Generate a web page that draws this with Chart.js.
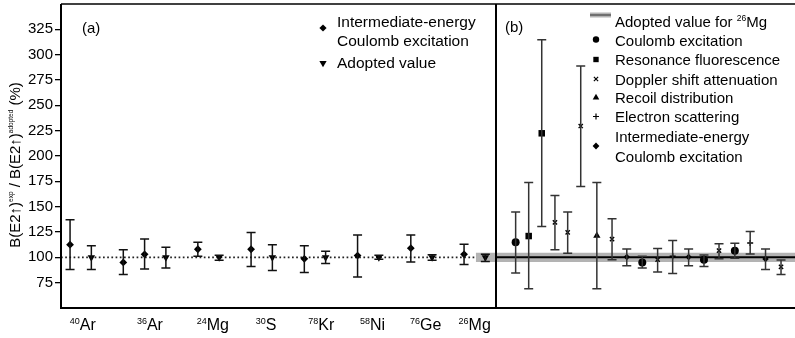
<!DOCTYPE html>
<html>
<head>
<meta charset="utf-8">
<script src="https://cdn.jsdelivr.net/npm/chart.js@4/dist/chart.umd.min.js"></script>
<style>
    html, body { margin: 0; padding: 0; background: #fff; }
    #wrap { position: relative; width: 795px; height: 338px; overflow: hidden; }
    #chartA { position: absolute; left: 0; top: 0; }
    #chartB { position: absolute; left: 496px; top: 0; }
</style>
</head>
<body>
<div id="wrap">
    <canvas id="chartA" width="498" height="338"></canvas>
    <canvas id="chartB" width="299" height="338"></canvas>
</div>
<script>
// ---- panel (a) ----
const massNumbers = ['40', '36', '24', '30', '78', '58', '76', '26'];
const elements = ['Ar', 'Ar', 'Mg', 'S', 'Kr', 'Ni', 'Ge', 'Mg'];
const labelX = [1.2, 7.5, 13.4, 18.4, 23.6, 28.4, 33.4, 38.0];

// intermediate-energy Coulomb excitation
const ieX = [0, 5, 7, 12, 17, 22, 27, 32, 37];
const ieY = [112.5, 95, 103, 108, 108, 98.5, 101.7, 109, 103];
const ieLo = [88, 83, 88.5, 101, 91, 85, 80.7, 95.5, 93];
const ieHi = [137, 107.5, 118, 115, 124.6, 111.5, 122, 122, 113];

// adopted values
const adX = [2, 9, 14, 19, 24, 29, 34, 39];
const adY = [100, 100, 100, 100, 100, 100, 100, 100];
const adLo = [88, 89.5, 97, 87, 94, 98, 97, 96];
const adHi = [111.5, 110, 102, 112.5, 106, 102, 102.5, 103];

// adopted value for 26Mg (band)
const mgAdopted = 100;
const mgAdoptedErr = 4.5;
const bandStartA = 38.1;

const yTicks = [75, 100, 125, 150, 175, 200, 225, 250, 275, 300, 325];

// ---- panel (b): 26Mg measurements ----
const bX = [1.28, 2.13, 2.98, 3.84, 4.67, 5.52, 6.57, 7.56, 8.52, 9.53, 10.53, 11.51, 12.55, 13.55, 14.53, 15.56, 16.56, 17.56, 18.57];
const bY = [114.8, 121, 222.4, 134.4, 124.6, 229.6, 121.4, 118, 100.4, 95, 97.7, 101, 100.4, 97.7, 106.6, 106.6, 114.2, 98.4, 90.5];
const bLo = [84.6, 68.9, 130.5, 107.6, 104, 169.9, 68.9, 97.7, 91.8, 89.5, 85.6, 84, 91.8, 91, 98.7, 99, 103.3, 88, 83];
const bHi = [144.7, 173.8, 314.8, 161, 144.7, 288.7, 173.8, 138, 108.3, 101, 108.6, 116.7, 108.3, 102.3, 113.5, 113.8, 125.6, 108.3, 97.4];
const bMethod = ['ce', 'rf', 'rf', 'dsa', 'dsa', 'dsa', 'rd', 'dsa', 'ie', 'ce', 'dsa', 'es', 'ie', 'ce', 'dsa', 'ce', 'es', 'ie', 'dsa'];

const methods = ['ce', 'rf', 'dsa', 'rd', 'es', 'ie'];
const methodNames = ['Coulomb excitation', 'Resonance fluorescence', 'Doppler shift attenuation',
    'Recoil distribution', 'Electron scattering', 'Intermediate-energy\nCoulomb excitation'];

// marker look for each method
const markerStyle = {
    ce: { pointStyle: 'circle', radius: 4, legendRadius: 3.2 },
    rf: { pointStyle: 'rect', radius: 4.6, legendRadius: 3.8 },
    dsa: { pointStyle: 'crossRot', radius: 3, legendRadius: 3 },
    rd: { pointStyle: 'triangle', radius: 4.2, legendRadius: 3.8 },
    es: { pointStyle: 'cross', radius: 3, legendRadius: 3 },
    ie: { pointStyle: 'rectRot', radius: 3.2, legendRadius: 3.4 },
};

const FONT = "'Liberation Sans', Arial, Helvetica, sans-serif";
Chart.defaults.font.family = FONT;
Chart.defaults.color = '#000';

const toPoints = (xs, ys) => xs.map((x, i) => ({ x: x, y: ys[i] }));

// draws text pieces one after another, some raised and smaller (superscripts)
function drawRich(ctx, parts, x, y, align) {
    let total = 0;
    parts.forEach(p => {
        ctx.font = p.size + 'px ' + FONT;
        p.w = ctx.measureText(p.t).width;
        total += p.w;
    });
    let cx = align === 'center' ? x - total / 2 : x;
    ctx.textAlign = 'left';
    ctx.textBaseline = 'alphabetic';
    parts.forEach(p => {
        ctx.font = p.size + 'px ' + FONT;
        ctx.fillText(p.t, cx, y - (p.rise || 0));
        cx += p.w;
    });
}

function marker(ctx, style, radius, x, y, rotation) {
    ctx.fillStyle = '#000';
    ctx.strokeStyle = '#000';
    ctx.lineWidth = 1.2;
    const lined = style === 'cross' || style === 'crossRot';
    Chart.helpers.drawPoint(ctx, {
        pointStyle: style, radius: radius, rotation: rotation || 0,
        borderWidth: lined ? 1.2 : 0
    }, x, y);
}

const errorBars = {
    id: 'errorBars',
    afterDatasetsDraw(chart, args, opts) {
        const ctx = chart.ctx;
        const yScale = chart.scales.y;
        chart.data.datasets.forEach((ds, di) => {
            if (!ds.errLo) return;
            const meta = chart.getDatasetMeta(di);
            ctx.save();
            ctx.strokeStyle = opts.color || '#111';
            ctx.lineWidth = 1.5;
            meta.data.forEach((pt, i) => {
                const yl = yScale.getPixelForValue(ds.errLo[i]);
                const yh = yScale.getPixelForValue(ds.errHi[i]);
                ctx.beginPath();
                ctx.moveTo(pt.x, yl); ctx.lineTo(pt.x, yh);
                ctx.moveTo(pt.x - 4.5, yl); ctx.lineTo(pt.x + 4.5, yl);
                ctx.moveTo(pt.x - 4.5, yh); ctx.lineTo(pt.x + 4.5, yh);
                ctx.stroke();
            });
            ctx.restore();
        });
    }
};

const decorA = {
    id: 'decorA',
    afterDraw(chart) {
        const ctx = chart.ctx;
        const { left, right, top, bottom } = chart.chartArea;
        const xScale = chart.scales.x;
        ctx.save();
        ctx.strokeStyle = '#000';
        ctx.lineWidth = 1.5;
        ctx.beginPath(); ctx.moveTo(left, top); ctx.lineTo(right, top); ctx.stroke();
        ctx.lineWidth = 2;
        ctx.beginPath();
        ctx.moveTo(left, top); ctx.lineTo(left, bottom); ctx.lineTo(right, bottom);
        ctx.moveTo(right, top); ctx.lineTo(right, bottom);
        ctx.stroke();

        ctx.fillStyle = '#000';
        // x labels with mass number superscripts
        massNumbers.forEach((m, i) => {
            drawRich(ctx, [{ t: m, size: 9, rise: 6 }, { t: elements[i], size: 16 }],
                xScale.getPixelForValue(labelX[i]), 330, 'center');
        });

        // panel tag
        drawRich(ctx, [{ t: '(a)', size: 15 }], 82, 33, 'left');

        // y title
        ctx.save();
        ctx.translate(20, 165);
        ctx.rotate(-Math.PI / 2);
        drawRich(ctx, [
            { t: 'B(E2\u2191)', size: 15 }, { t: 'exp', size: 6.5, rise: 7 },
            { t: ' / B(E2\u2191)', size: 15 }, { t: 'adopted', size: 6.5, rise: 7 },
            { t: ' (%)', size: 15 }
        ], 0, 0, 'center');
        ctx.restore();

        // legend
        marker(ctx, 'rectRot', 3.6, 323, 28);
        drawRich(ctx, [{ t: 'Intermediate-energy', size: 15.5 }], 337, 26.5, 'left');
        drawRich(ctx, [{ t: 'Coulomb excitation', size: 15.5 }], 337, 45.5, 'left');
        marker(ctx, 'triangle', 4.2, 323, 63, 180);
        drawRich(ctx, [{ t: 'Adopted value', size: 15.5 }], 337, 68.3, 'left');
        ctx.restore();
    }
};

new Chart(document.getElementById('chartA'), {
    type: 'scatter',
    data: {
        datasets: [
            {
                label: 'Intermediate-energy Coulomb excitation',
                data: toPoints(ieX, ieY), errLo: ieLo, errHi: ieHi,
                pointStyle: 'rectRot', pointRadius: 3.9, borderWidth: 0,
                backgroundColor: '#000', borderColor: '#000', order: 1,
            },
            {
                label: 'Adopted value',
                data: toPoints(adX, adY), errLo: adLo, errHi: adHi,
                pointStyle: 'triangle', pointRotation: 180, pointRadius: 4.3, borderWidth: 0,
                backgroundColor: '#000', borderColor: '#000', order: 1,
            },
            {
                type: 'line', data: [{ x: -0.85, y: mgAdopted }, { x: bandStartA, y: mgAdopted }],
                borderColor: '#222', borderWidth: 1.7, borderDash: [1.7, 2.5], pointRadius: 0, order: 5,
            },
            {
                type: 'line', data: [{ x: bandStartA, y: mgAdopted + mgAdoptedErr }, { x: 40, y: mgAdopted + mgAdoptedErr }],
                borderWidth: 0, pointRadius: 0, fill: '+1', backgroundColor: '#b3b3b3', order: 10,
            },
            {
                type: 'line', data: [{ x: bandStartA, y: mgAdopted - mgAdoptedErr }, { x: 40, y: mgAdopted - mgAdoptedErr }],
                borderWidth: 0, pointRadius: 0, fill: false, order: 11,
            },
        ],
    },
    options: {
        responsive: false,
        animation: false,
        events: [],
        layout: { autoPadding: false, padding: { top: 4, bottom: 30, left: 0, right: 2 } },
        plugins: { legend: { display: false }, tooltip: { enabled: false }, errorBars: { color: '#111' } },
        scales: {
            x: { type: 'linear', min: -0.85, max: 40, display: false },
            y: {
                min: 50, max: 350,
                afterBuildTicks: s => { s.ticks = yTicks.map(v => ({ value: v })); },
                afterFit: s => { s.width = 61; s.paddingTop = 0; s.paddingBottom = 0; },
                ticks: { font: { size: 15 }, color: '#000', padding: 2 },
                grid: { drawOnChartArea: false, drawTicks: true, tickLength: 6, color: '#000', lineWidth: 1.3 },
                border: { display: false },
            },
        },
    },
    plugins: [errorBars, decorA],
});

const decorB = {
    id: 'decorB',
    afterDraw(chart) {
        const ctx = chart.ctx;
        const { left, right, top, bottom } = chart.chartArea;
        ctx.save();
        ctx.strokeStyle = '#000';
        ctx.lineWidth = 1.5;
        ctx.beginPath(); ctx.moveTo(left, top); ctx.lineTo(right, top); ctx.stroke();
        ctx.lineWidth = 2;
        ctx.beginPath();
        ctx.moveTo(left, top); ctx.lineTo(left, bottom); ctx.lineTo(right, bottom);
        ctx.stroke();

        ctx.fillStyle = '#000';
        drawRich(ctx, [{ t: '(b)', size: 15 }], 9, 32, 'left');

        // legend
        const mx = 99, tx = 119;
        ctx.fillStyle = '#b3b3b3';
        ctx.fillRect(mx - 5, 12.5, 21, 5);
        ctx.fillStyle = '#555';
        ctx.fillRect(mx - 5, 14.3, 21, 1.4);
        ctx.fillStyle = '#000';
        drawRich(ctx, [{ t: 'Adopted value for ', size: 15 }, { t: '26', size: 8.5, rise: 6 }, { t: 'Mg', size: 15 }], tx, 26.7, 'left');
        const rows = [45.7, 65, 85, 103.3, 122, 141.7];
        const markY = [39.5, 59.5, 79, 97.5, 116.5, 146];
        methods.forEach((m, i) => {
            const st = markerStyle[m];
            marker(ctx, st.pointStyle, st.legendRadius, mx + 1, markY[i]);
            methodNames[i].split('\n').forEach((line, j) => {
                drawRich(ctx, [{ t: line, size: 15 }], tx, rows[i] + j * 20, 'left');
            });
        });
        ctx.restore();
    }
};

const methodSets = methods.map(m => {
    const idx = bMethod.map((v, i) => v === m ? i : -1).filter(i => i >= 0);
    const st = markerStyle[m];
    const lined = st.pointStyle === 'cross' || st.pointStyle === 'crossRot';
    return {
        data: idx.map(i => ({ x: bX[i], y: bY[i] })),
        errLo: idx.map(i => bLo[i]),
        errHi: idx.map(i => bHi[i]),
        pointStyle: st.pointStyle, pointRadius: st.radius,
        borderWidth: lined ? 1.4 : 0,
        backgroundColor: '#000', borderColor: '#000', order: 1,
    };
});

new Chart(document.getElementById('chartB'), {
    type: 'scatter',
    data: {
        datasets: methodSets.concat([
            {
                type: 'line', data: [{ x: 0, y: mgAdopted }, { x: 19.48, y: mgAdopted }],
                borderColor: '#000', borderWidth: 2, pointRadius: 0, order: 5,
            },
            {
                type: 'line', data: [{ x: 0, y: mgAdopted + mgAdoptedErr }, { x: 19.48, y: mgAdopted + mgAdoptedErr }],
                borderWidth: 0, pointRadius: 0, fill: '+1', backgroundColor: '#b3b3b3', order: 10,
            },
            {
                type: 'line', data: [{ x: 0, y: mgAdopted - mgAdoptedErr }, { x: 19.48, y: mgAdopted - mgAdoptedErr }],
                borderWidth: 0, pointRadius: 0, fill: false, order: 11,
            },
        ]),
    },
    options: {
        responsive: false,
        animation: false,
        events: [],
        layout: { autoPadding: false, padding: { top: 4, bottom: 30, left: 0, right: 0 } },
        plugins: { legend: { display: false }, tooltip: { enabled: false }, errorBars: { color: '#333' } },
        scales: {
            x: { type: 'linear', min: 0, max: 19.48, display: false },
            y: { min: 50, max: 350, display: false },
        },
    },
    plugins: [errorBars, decorB],
});
</script>
</body>
</html>
